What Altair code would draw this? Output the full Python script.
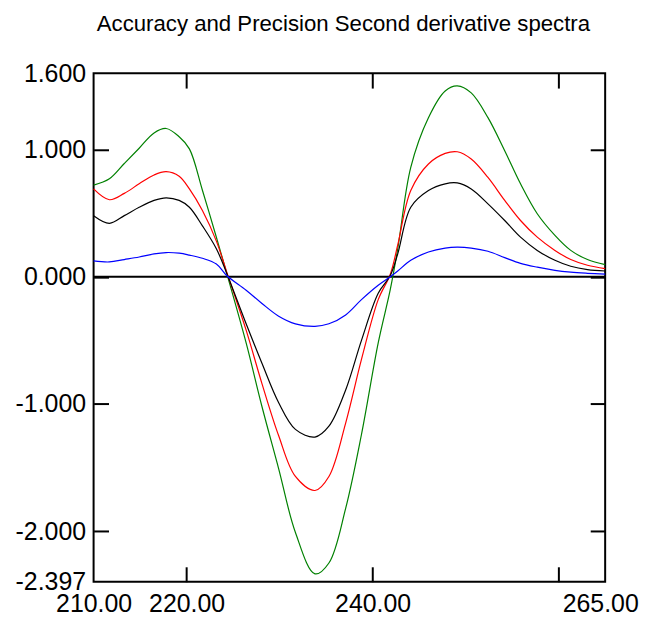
import altair as alt
import pandas as pd

# ---- data ----
wavelength = [210.0, 211.7, 213.3, 214.9, 216.5, 217.8, 219.2, 220.3, 221.7, 223.2,
              224.3, 226.4, 228.1, 229.9, 231.7, 233.8, 235.3, 237.1, 238.8, 240.6,
              241.9, 242.7, 244.1, 246.0, 247.8, 249.1, 250.6, 252.4, 254.2, 255.9,
              257.7, 259.6, 261.3, 263.1, 265.0]
green = [0.72, 0.77, 0.89, 1.01, 1.13, 1.165, 1.10, 1.005, 0.68, 0.31,
         0.03, -0.52, -1.02, -1.51, -2.01, -2.335, -2.25, -1.82, -1.24, -0.52,
         -0.10, 0.22, 0.86, 1.25, 1.46, 1.50, 1.445, 1.25, 0.99, 0.73,
         0.495, 0.325, 0.207, 0.135, 0.095]
red = [0.69, 0.605, 0.655, 0.73, 0.80, 0.826, 0.79, 0.69, 0.52, 0.28,
       0.04, -0.42, -0.84, -1.25, -1.57, -1.68, -1.57, -1.15, -0.65, -0.18,
       0.02, 0.25, 0.677, 0.886, 0.969, 0.982, 0.925, 0.78, 0.60, 0.442,
       0.311, 0.207, 0.135, 0.09, 0.064]
black = [0.48, 0.42, 0.48, 0.546, 0.60, 0.62, 0.60, 0.546, 0.40, 0.22,
         0.03, -0.37, -0.68, -0.99, -1.20, -1.26, -1.175, -0.89, -0.50, -0.13,
         0.01, 0.18, 0.546, 0.677, 0.73, 0.737, 0.69, 0.573, 0.442, 0.311,
         0.207, 0.129, 0.082, 0.056, 0.045]
blue = [0.124, 0.116, 0.135, 0.155, 0.18, 0.19, 0.185, 0.17, 0.145, 0.10,
        0.01, -0.106, -0.21, -0.31, -0.37, -0.39, -0.37, -0.30, -0.18, -0.067,
        0.0, 0.045, 0.129, 0.194, 0.225, 0.232, 0.225, 0.20, 0.15, 0.105,
        0.075, 0.05, 0.036, 0.027, 0.02]

series_names = ["Green", "Red", "Black", "Blue"]
series_colors = ["#008000", "#ff0000", "#000000", "#0000ff"]
series_values = [green, red, black, blue]

x_label_values = [210, 220, 240, 265]
x_tick_values = [220, 240, 260]
y_label_values = [1.6, 1.0, 0.0, -1.0, -2.0, -2.397]
y_tick_values = [1.0, 0.0, -1.0, -2.0]
zero_level = [0.0]

title_text = "Accuracy and Precision Second derivative spectra"

# ---- build table ----
rows = []
for name, vals in zip(series_names, series_values):
    for w, v in zip(wavelength, vals):
        rows.append({"wavelength": w, "value": v, "series": name})
df = pd.DataFrame(rows)
zero_df = pd.DataFrame({"level": zero_level})

FONT = "Liberation Sans"
x_scale = alt.Scale(domain=[210, 265], nice=False, zero=False)
y_scale = alt.Scale(domain=[-2.397, 1.6], nice=False, zero=False)

x_label_axis = alt.Axis(
    values=x_label_values, format=".2f", orient="bottom",
    ticks=False, domain=False, grid=False, title=None,
    labelFont=FONT, labelFontSize=25, labelColor="black",
    labelPadding=10, labelFlush=False, labelOverlap=False,
    labelOffset={"condition": {"test": "datum.value == 265", "value": -5}, "value": 0},
)
y_label_axis = alt.Axis(
    values=y_label_values, orient="left",
    labelExpr="replace(format(datum.value, '.3f'), '\u2212', '-')",
    ticks=False, domain=False, grid=False, title=None,
    labelFont=FONT, labelFontSize=25, labelColor="black",
    labelPadding=8, labelFlush=False, labelOverlap=False,
)


def tick_axis(vals, orient):
    return alt.Axis(
        values=vals, orient=orient, offset=-15, tickSize=15, tickWidth=2,
        tickColor="black", labels=False, domain=False, grid=False, title=None,
    )


lines = alt.Chart(df).mark_line(strokeWidth=1.2, interpolate="catmull-rom").encode(
    x=alt.X("wavelength:Q", scale=x_scale, axis=x_label_axis),
    y=alt.Y("value:Q", scale=y_scale, axis=y_label_axis),
    color=alt.Color("series:N", scale=alt.Scale(domain=series_names, range=series_colors), legend=None),
)

ticks_a = alt.Chart(df).mark_line(opacity=0).encode(
    x=alt.X("wavelength:Q", scale=x_scale, axis=tick_axis(x_tick_values, "bottom")),
    y=alt.Y("value:Q", scale=y_scale, axis=tick_axis(y_tick_values, "left")),
    detail="series:N",
)
ticks_b = alt.Chart(df).mark_line(opacity=0).encode(
    x=alt.X("wavelength:Q", scale=x_scale, axis=tick_axis(x_tick_values, "top")),
    y=alt.Y("value:Q", scale=y_scale, axis=tick_axis(y_tick_values, "right")),
    detail="series:N",
)

zero_rule = alt.Chart(zero_df).mark_rule(color="black", strokeWidth=2).encode(
    y=alt.Y("level:Q", scale=y_scale, axis=None),
)

chart = alt.layer(zero_rule, lines, ticks_a, ticks_b).resolve_axis(
    x="independent", y="independent"
).properties(
    width=514,
    height=511,
    title=alt.TitleParams(
        title_text, fontSize=22.3, font=FONT, fontWeight="normal", color="black",
        anchor="middle", frame="group", offset=26, dx=-6,
    ),
    padding={"left": 86, "top": 64, "right": 34, "bottom": 35},
    autosize=alt.AutoSizeParams(type="none"),
).configure_view(stroke="black", strokeWidth=2)

chart.save("out.html", embed_options={"renderer": "svg", "actions": False})
